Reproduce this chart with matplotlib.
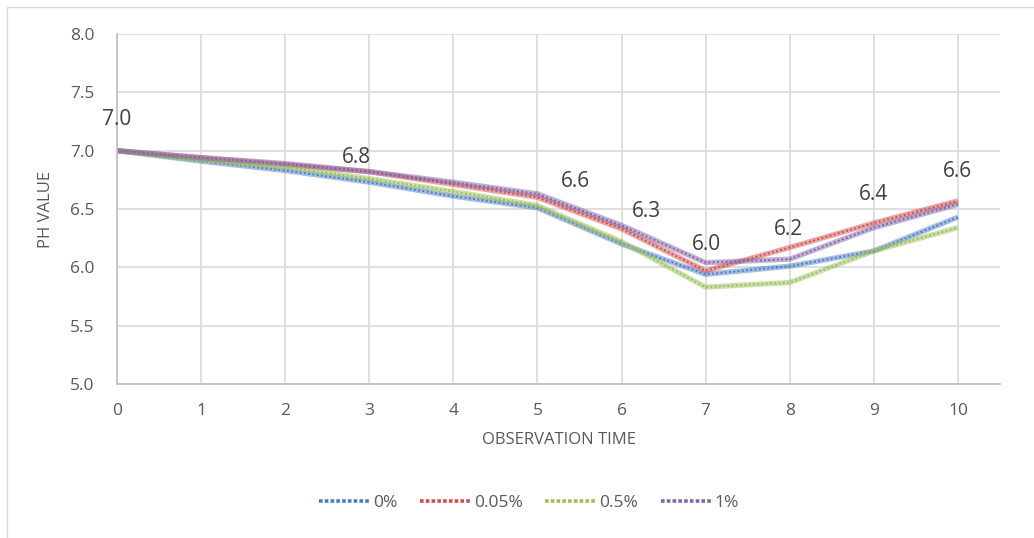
import matplotlib
matplotlib.use("Agg")
from matplotlib import pyplot as plt
from matplotlib.patches import Rectangle

plt.rcParams["font.family"] = ["Open Sans", "DejaVu Sans"]

# pH readings for each concentration over the observation time
time = [0, 1, 2, 3, 4, 5, 6, 7, 8, 9, 10]
ph_0 = [7.00, 6.91, 6.83, 6.73, 6.61, 6.51, 6.20, 5.94, 6.01, 6.14, 6.43]
ph_005 = [7.00, 6.94, 6.88, 6.82, 6.71, 6.60, 6.33, 5.97, 6.17, 6.38, 6.57]
ph_05 = [7.00, 6.92, 6.86, 6.76, 6.65, 6.53, 6.22, 5.83, 5.87, 6.14, 6.34]
ph_1 = [7.00, 6.94, 6.89, 6.82, 6.73, 6.63, 6.36, 6.04, 6.07, 6.34, 6.54]

series = [("0%", ph_0, "#4a7cc4"),
          ("0.05%", ph_005, "#d24f4c"),
          ("0.5%", ph_05, "#9bbf5a"),
          ("1%", ph_1, "#8466a8")]

# value labels shown for the 0.05% series, with hand-placed offsets in pixels
label_idx = [0, 3, 5, 6, 7, 8, 9, 10]
label_off = [(0, 31), (-13, 14), (38, 16), (25, 17), (1, 26), (-1, 18), (0, 29), (-1, 29)]

fig = plt.figure(figsize=(10.34, 5.38), dpi=100)
fig.patches.append(Rectangle((7 / 1034, -0.1), 1.2, 1.1 - 7 / 538, transform=fig.transFigure,
                             fill=False, edgecolor="#d9d9d9", linewidth=1))
ax = fig.add_axes([117 / 1034, 1 - 384 / 538, 883 / 1034, 350 / 538])

for name, vals, color in series:
    ax.plot(time, vals, color=color, linewidth=3.8, alpha=0.5, solid_capstyle="butt")
    ax.plot(time, vals, color=color, linewidth=1.4, linestyle=(0, (1, 1.2)))
    ax.plot([], [], color=color, linewidth=2.6, linestyle=(0, (1, 0.6)), label=name)

for i, (dx, dy) in zip(label_idx, label_off):
    ax.annotate(f"{ph_005[i]:.1f}", (time[i], ph_005[i]), xytext=(dx, dy),
                textcoords="offset pixels", ha="center", va="center",
                fontsize=15, color="#404040", annotation_clip=False)

ax.set_xlim(0, 10.5)
ax.set_ylim(5.0, 8.0)
ax.set_xticks(time)
ax.set_yticks([5.0, 5.5, 6.0, 6.5, 7.0, 7.5, 8.0])
ax.set_yticklabels([f"{v:.1f}" for v in ax.get_yticks()])
ax.grid(True, color="#d9d9d9", linewidth=1.2)
ax.set_axisbelow(True)
for side in ["top", "right"]:
    ax.spines[side].set_visible(False)
for side in ["left", "bottom"]:
    ax.spines[side].set_color("#bfbfbf")
    ax.spines[side].set_linewidth(1.2)
ax.tick_params(length=0, labelsize=12.5, colors="#595959")
ax.tick_params(axis="x", pad=14)
ax.tick_params(axis="y", pad=16)

ax.set_xlabel("OBSERVATION TIME", fontsize=12, color="#595959", labelpad=9)
ax.set_ylabel("PH VALUE", fontsize=12, color="#595959", labelpad=12)

ax.legend(loc="center", bbox_to_anchor=(529 / 1034, 1 - 503 / 538), bbox_transform=fig.transFigure,
          ncol=4, frameon=False, fontsize=12.5, labelcolor="#595959",
          handlelength=2.9, handletextpad=0.2, columnspacing=1.3)

fig.savefig("out.png", dpi=100)
